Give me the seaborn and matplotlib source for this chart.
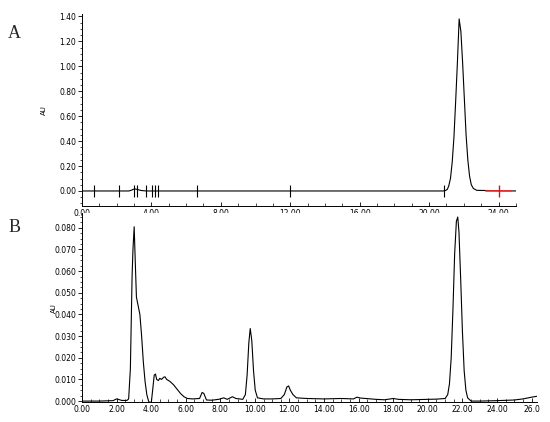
import numpy as np
import pandas as pd
import matplotlib
matplotlib.use("Agg")
import matplotlib.pyplot as plt
from matplotlib.ticker import MultipleLocator
import seaborn as sns

# Panel A trace (min, AU)
a_time = [0.0, 2.7, 2.85, 2.95, 3.05, 3.2, 3.4, 3.7, 20.8, 20.95, 21.05, 21.13, 21.23,
          21.33, 21.43, 21.53, 21.63, 21.73, 21.83, 21.93, 22.03, 22.13, 22.23, 22.33,
          22.43, 22.55, 22.75, 25.0]
a_au = [0.0, 0.0, 0.006, 0.013, 0.016, 0.012, 0.004, 0.0, 0.0, 0.004, 0.013, 0.04, 0.1,
        0.23, 0.43, 0.72, 1.03, 1.38, 1.28, 1.03, 0.74, 0.45, 0.25, 0.12, 0.05, 0.02,
        0.005, 0.0]

# integration markers on panel A
a_marks = [0.7, 2.15, 3.0, 3.15, 3.7, 4.05, 4.2, 4.4, 6.6, 12.0, 20.85]
a_red_mark = 24.0

# Panel B trace (min, AU)
b_time = [0.0, 1.0, 1.8, 2.0, 2.1, 2.3, 2.6, 2.7, 2.8, 2.9, 2.95, 3.02, 3.08, 3.15, 3.25,
          3.35, 3.45, 3.55, 3.65, 3.75, 3.85, 3.95, 4.02, 4.1, 4.18, 4.25, 4.32, 4.42,
          4.5, 4.6, 4.72, 4.8, 4.9, 5.1, 5.3, 5.5, 5.7, 5.9, 6.1, 6.4, 6.8, 6.95, 7.05,
          7.2, 7.5, 7.9, 8.2, 8.4, 8.7, 8.9, 9.1, 9.3, 9.45, 9.55, 9.65, 9.73, 9.82,
          9.92, 10.02, 10.15, 10.5, 11.0, 11.5, 11.7, 11.85, 11.95, 12.05, 12.2, 12.4,
          13.0, 14.0, 15.0, 15.7, 15.9, 16.1, 17.0, 17.5, 18.0, 18.3, 19.0, 20.0, 20.5,
          21.0, 21.15, 21.25, 21.35, 21.45, 21.55, 21.65, 21.73, 21.8, 21.9, 22.0, 22.1,
          22.2, 22.3, 22.5, 23.0, 24.0, 25.0, 25.5, 26.0, 26.3]
b_au = [0.0, 0.0, 0.0002, 0.001, 0.0008, 0.0003, 0.0003, 0.001, 0.015, 0.058, 0.07, 0.0805,
        0.065, 0.048, 0.044, 0.04, 0.03, 0.018, 0.009, 0.003, 0.0, -0.001, 0.0, 0.006,
        0.012, 0.0125, 0.01, 0.0095, 0.0105, 0.01, 0.011, 0.0112, 0.01, 0.009, 0.0075,
        0.0055, 0.0035, 0.002, 0.0012, 0.001, 0.0012, 0.004, 0.0035, 0.0005, 0.0004,
        0.0008, 0.0015, 0.0008, 0.002, 0.0012, 0.001, 0.0008, 0.003, 0.012, 0.027,
        0.0335, 0.028, 0.014, 0.005, 0.0015, 0.001, 0.001, 0.0012, 0.003, 0.0065, 0.007,
        0.005, 0.003, 0.0015, 0.0012, 0.001, 0.0012, 0.001, 0.0018, 0.0014, 0.0008,
        0.0006, 0.0012, 0.0008, 0.0006, 0.0008, 0.0009, 0.0012, 0.003, 0.008, 0.02,
        0.042, 0.068, 0.083, 0.085, 0.078, 0.056, 0.032, 0.014, 0.005, 0.0015, 0.0,
        0.0, 0.0002, 0.0005, 0.001, 0.0018, 0.0022]

a_xticks = [0, 4, 8, 12, 16, 20, 24]
a_xlabels = ["0.00", "4.00", "8.00", "12.00", "16.00", "20.00", "24.00"]
a_yticks = [0.0, 0.2, 0.4, 0.6, 0.8, 1.0, 1.2, 1.4]
b_xticks = [0, 2, 4, 6, 8, 10, 12, 14, 16, 18, 20, 22, 24, 26]
b_xlabels = ["0.00", "2.00", "4.00", "6.00", "8.00", "10.00", "12.00", "14.00", "16.00",
             "18.00", "20.00", "22.00", "24.00", "26.0"]
b_yticks = [0.0, 0.01, 0.02, 0.03, 0.04, 0.05, 0.06, 0.07, 0.08]

sns.set_style("ticks")
plt.rcParams['font.family'] = ['DejaVu Sans']

fig = plt.figure(figsize=(5.5, 4.22), dpi=100)
ax_a = fig.add_axes([0.149, 0.512, 0.789, 0.455])
ax_b = fig.add_axes([0.149, 0.047, 0.827, 0.448])

df_a = pd.DataFrame({'time': a_time, 'au': a_au})
df_b = pd.DataFrame({'time': b_time, 'au': b_au})

sns.lineplot(data=df_a, x='time', y='au', ax=ax_a, color='black', lw=0.8)
sns.lineplot(data=df_b, x='time', y='au', ax=ax_b, color='black', lw=0.8)

# integration tick marks on panel A
ax_a.vlines(a_marks, -0.045, 0.045, color='black', lw=0.8)
ax_a.plot([a_red_mark - 0.7, a_red_mark + 0.7], [0, 0], color='#ff3030', lw=1.2)
ax_a.vlines([a_red_mark], -0.045, 0.045, color='#e01010', lw=1.0)

for ax in (ax_a, ax_b):
    sns.despine(ax=ax)
    ax.set_xlabel('')
    ax.set_ylabel('AU', fontsize=5, color='black')
    ax.tick_params(axis='x', direction='in', length=3, width=0.6, labelsize=5.5, pad=2,
                   colors='black')
    ax.tick_params(axis='x', which='minor', direction='in', length=2, width=0.5,
                   colors='black')
    ax.tick_params(axis='y', direction='out', length=3, width=0.6, labelsize=5.5, pad=1,
                   colors='black')
    ax.tick_params(axis='y', which='minor', direction='out', length=1.5, width=0.5,
                   colors='black')
    for s in ax.spines.values():
        s.set_linewidth(0.7)
        s.set_color('black')

ax_a.set_xlim(0, 25.0)
ax_a.set_ylim(-0.12, 1.42)
ax_a.set_xticks(a_xticks)
ax_a.set_xticklabels(a_xlabels)
ax_a.xaxis.set_minor_locator(MultipleLocator(1))
ax_a.set_yticks(a_yticks)
ax_a.set_yticklabels([f"{v:.2f}" for v in a_yticks])
ax_a.yaxis.set_minor_locator(MultipleLocator(0.05))
ax_a.yaxis.set_label_coords(-0.08, 0.5)

ax_b.set_xlim(0, 26.3)
ax_b.set_ylim(-0.0005, 0.0868)
ax_b.set_xticks(b_xticks)
ax_b.set_xticklabels(b_xlabels)
ax_b.xaxis.set_minor_locator(MultipleLocator(0.5))
ax_b.set_yticks(b_yticks)
ax_b.set_yticklabels([f"{v:.3f}" for v in b_yticks])
ax_b.yaxis.set_minor_locator(MultipleLocator(0.0025))
ax_b.yaxis.set_label_coords(-0.055, 0.5)

fig.text(0.015, 0.92, 'A', fontsize=13, family='Liberation Serif', va='center')
fig.text(0.015, 0.46, 'B', fontsize=13, family='Liberation Serif', va='center')

fig.savefig('out.png', dpi=100)
